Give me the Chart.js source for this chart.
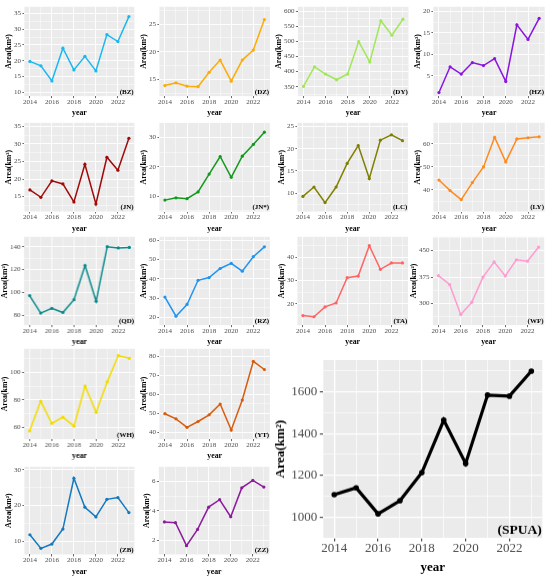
<!DOCTYPE html>
<html>
<head>
<meta charset="utf-8">
<script src="https://cdn.jsdelivr.net/npm/chart.js@4.4.0/dist/chart.umd.min.js"></script>
<style>
  body { margin: 0; background: #fff; }
  #wrap { position: relative; width: 550px; height: 581px; overflow: hidden; }
  .cell { position: absolute; }
</style>
</head>
<body>
<div id="wrap"></div>
<script>
const years = [2014, 2015, 2016, 2017, 2018, 2019, 2020, 2021, 2022, 2023];

const bz = [19.8, 18.4, 13.6, 24.0, 17.1, 21.4, 16.8, 28.3, 26.1, 34.0];
const dz = [13.9, 14.4, 13.8, 13.7, 16.3, 18.5, 14.7, 18.5, 20.3, 25.8];
const dy = [351, 416, 392, 373, 392, 499, 432, 568, 520, 573];
const hz = [1.1, 7.1, 5.4, 8.1, 7.4, 9.0, 3.7, 16.9, 13.5, 18.4];
const jn = [16.9, 14.8, 19.5, 18.6, 13.5, 24.2, 12.9, 26.2, 22.5, 31.6];
const jnStar = [8.6, 9.4, 9.1, 11.4, 17.5, 23.5, 16.4, 23.6, 27.6, 31.8];
const lc = [9.3, 11.4, 7.9, 11.4, 16.7, 20.7, 13.3, 21.9, 23.1, 21.8];
const ly = [44.2, 39.6, 35.7, 43.1, 49.9, 62.8, 52.1, 62.1, 62.6, 63.0];
const qd = [97.2, 81.8, 85.9, 82.3, 93.6, 123.5, 92.2, 140.1, 139.0, 139.5];
const rz = [30.5, 20.6, 26.7, 39.2, 40.6, 45.3, 48.0, 43.9, 51.4, 56.5];
const ta = [15.0, 14.5, 18.7, 20.4, 31.2, 31.9, 44.9, 34.8, 37.5, 37.5];
const wf = [379, 354, 269, 304, 375, 418, 378, 424, 420, 460];
const wh = [57.5, 79.0, 63.0, 67.5, 61.0, 90.0, 71.0, 93.0, 112.0, 110.0];
const yt = [49.7, 47.0, 42.5, 45.6, 49.1, 54.8, 41.1, 56.9, 77.3, 73.0];
const zb = [11.8, 8.0, 9.2, 13.4, 27.6, 19.5, 16.8, 21.7, 22.2, 18.0];
const zz = [3.25, 3.2, 1.65, 2.75, 4.25, 4.75, 3.6, 5.55, 6.05, 5.6];
const spua = [1107, 1140, 1015, 1078, 1213, 1465, 1257, 1585, 1580, 1700];

const FONT = "'Liberation Serif', 'Times New Roman', serif";

// panel edges in page pixels
const cols = [[24, 134], [159, 269.5], [297.7, 408.3], [433, 544.3]];
const rows = [[6.7, 96], [122.3, 211], [237, 325.3], [349, 439.3], [466.7, 554.3]];

const panels = [
  { name: '(BZ)', values: bz, color: '#1AB8F0', min: 8.8, max: 37.1, step: 5, col: 0, row: 0 },
  { name: '(DZ)', values: dz, color: '#FDAC07', min: 12, max: 28.1, step: 5, col: 1, row: 0 },
  { name: '(DY)', values: dy, color: '#A3E65C', min: 319, max: 614, step: 50, col: 2, row: 0 },
  { name: '(HZ)', values: hz, color: '#8A14E0', min: 0.26, max: 21.1, step: 5, col: 3, row: 0 },
  { name: '(JN)', values: jn, color: '#A00A0A', min: 10.75, max: 36, step: 5, col: 0, row: 1 },
  { name: '(JN*)', values: jnStar, color: '#129A1C', min: 4.7, max: 35, step: 10, col: 1, row: 1 },
  { name: '(LC)', values: lc, color: '#808000', min: 5.9, max: 25.8, step: 5, col: 2, row: 1 },
  { name: '(LY)', values: ly, color: '#FF8A1E', min: 30.5, max: 69.1, step: 10, col: 3, row: 1 },
  { name: '(QD)', values: qd, color: '#0A8C8C', min: 71.2, max: 148.8, step: 20, col: 0, row: 2 },
  { name: '(RZ)', values: rz, color: '#2094F2', min: 16, max: 61.7, step: 10, col: 1, row: 2 },
  { name: '(TA)', values: ta, color: '#FF6464', min: 10.9, max: 48.7, step: 10, col: 2, row: 2 },
  { name: '(WF)', values: wf, color: '#FF9BD0', min: 239, max: 489, step: 75, col: 3, row: 2 },
  { name: '(WH)', values: wh, color: '#F2DC00', min: 51.6, max: 116.9, step: 20, col: 0, row: 3 },
  { name: '(YT)', values: yt, color: '#D85C0E', min: 36.3, max: 83.9, step: 10, col: 1, row: 3 },
  { name: '(ZB)', values: zb, color: '#1479BE', min: 6.3, max: 30.8, step: 10, col: 0, row: 4 },
  { name: '(ZZ)', values: zz, color: '#8C1C9C', min: 1.06, max: 6.97, step: 2, col: 1, row: 4 }
];

const bigPanel = { name: '(SPUA)', values: spua, color: '#000000', min: 900, max: 1753, step: 200,
  box: [323, 542, 360, 537] };

const small = { tick: 7, title: 7.8, label: 7, line: 1.5, radius: 1.6, grid: 0.9, tickLen: 2,
  tickPad: 1.3, xTickPad: 0.5, xTitlePad: 2.5, yTitlePad: 0, labelDx: 0.7, labelDy: 2.2 };
const big = { tick: 13, title: 13, label: 13.5, line: 3.2, radius: 2.8, grid: 1.3, tickLen: 3.5,
  tickPad: 2.5, xTickPad: 0.5, xTitlePad: 4.5, yTitlePad: 1.8, labelDx: 0.5, labelDy: 4.3 };

function isMult(v, step) {
  const r = v / step;
  return Math.abs(r - Math.round(r)) < 1e-6;
}

function range(min, max, step) {
  const out = [];
  for (let k = Math.ceil(min / step - 1e-9); k * step <= max + 1e-9; k++) {
    out.push(+(k * step).toFixed(6));
  }
  return out;
}

const panelBg = {
  id: 'panelBg',
  beforeDraw(chart) {
    const { ctx, chartArea: a } = chart;
    ctx.save();
    ctx.fillStyle = '#EBEBEB';
    ctx.fillRect(a.left, a.top, a.width, a.height);
    ctx.restore();
  }
};

const cornerLabel = {
  id: 'cornerLabel',
  afterDatasetsDraw(chart, args, opts) {
    const { ctx, chartArea: a } = chart;
    ctx.save();
    ctx.font = 'bold ' + opts.size + 'px ' + FONT;
    ctx.textAlign = 'right';
    ctx.textBaseline = 'alphabetic';
    ctx.fillStyle = '#000';
    ctx.fillText(opts.text, a.right - opts.dx, a.bottom - opts.dy);
    ctx.restore();
  }
};

Chart.register(panelBg, cornerLabel);

const wrap = document.getElementById('wrap');

function buildChart(p, g, box) {
  const [left, right, top, bottom] = box;
  const div = document.createElement('div');
  div.className = 'cell';
  div.style.left = '0px';
  div.style.top = '0px';
  div.style.width = '300px';
  div.style.height = '260px';
  const canvas = document.createElement('canvas');
  div.appendChild(canvas);
  wrap.appendChild(div);

  const yTicks = range(p.min, p.max, p.step / 2);
  const majorX = v => isMult(v - 2014, 2);
  const majorY = v => isMult(v, p.step);

  const chart = new Chart(canvas, {
    type: 'line',
    data: {
      datasets: [{
        data: years.map((yr, i) => ({ x: yr, y: p.values[i] })),
        borderColor: p.color,
        backgroundColor: p.color,
        pointBackgroundColor: p.color,
        borderWidth: g.line,
        pointRadius: g.radius,
        pointBorderWidth: 0,
        tension: 0
      }]
    },
    options: {
      responsive: true,
      maintainAspectRatio: false,
      animation: false,
      events: [],
      layout: { padding: 0 },
      plugins: {
        legend: { display: false },
        tooltip: { enabled: false },
        cornerLabel: { text: p.name, size: g.label, dx: g.labelDx, dy: g.labelDy }
      },
      scales: {
        x: {
          type: 'linear',
          min: 2013.5,
          max: 2023.5,
          afterBuildTicks: s => { s.ticks = years.map(v => ({ value: v })); },
          ticks: {
            autoSkip: false,
            maxRotation: 0,
            padding: g.xTickPad,
            color: '#4D4D4D',
            font: { family: FONT, size: g.tick, lineHeight: 1 },
            callback: v => majorX(v) ? String(v) : ''
          },
          grid: {
            color: '#FFFFFF',
            lineWidth: c => (c.tick && majorX(c.tick.value)) ? g.grid : g.grid / 2,
            drawTicks: true,
            tickLength: g.tickLen,
            tickColor: c => (c.tick && majorX(c.tick.value)) ? '#333333' : 'rgba(0,0,0,0)',
            tickWidth: g.grid * 0.8
          },
          border: { display: false },
          title: {
            display: true,
            text: 'year',
            color: '#000',
            font: { family: FONT, size: g.title, weight: 'bold', lineHeight: 1.2 },
            padding: { top: g.xTitlePad, bottom: 0 }
          }
        },
        y: {
          min: p.min,
          max: p.max,
          afterBuildTicks: s => { s.ticks = yTicks.map(v => ({ value: v })); },
          ticks: {
            autoSkip: false,
            padding: g.tickPad,
            color: '#4D4D4D',
            font: { family: FONT, size: g.tick, lineHeight: 1 },
            callback: v => majorY(v) ? String(v) : ''
          },
          grid: {
            color: '#FFFFFF',
            lineWidth: c => (c.tick && majorY(c.tick.value)) ? g.grid : g.grid / 2,
            drawTicks: true,
            tickLength: g.tickLen,
            tickColor: c => (c.tick && majorY(c.tick.value)) ? '#333333' : 'rgba(0,0,0,0)',
            tickWidth: g.grid * 0.8
          },
          border: { display: false },
          title: {
            display: true,
            text: 'Area(km²)',
            color: '#000',
            font: { family: FONT, size: g.title, weight: 'bold', lineHeight: 1 },
            padding: { top: 0, bottom: g.yTitlePad }
          }
        }
      }
    }
  });

  // line the plot area up with the panel box of the reference
  const ca = chart.chartArea;
  const w0 = chart.width, h0 = chart.height;
  div.style.left = (left - ca.left) + 'px';
  div.style.top = (top - ca.top) + 'px';
  div.style.width = (ca.left + (right - left) + (w0 - ca.right)) + 'px';
  div.style.height = (ca.top + (bottom - top) + (h0 - ca.bottom)) + 'px';
  chart.resize();
  return chart;
}

panels.forEach(p => {
  const c = cols[p.col], r = rows[p.row];
  buildChart(p, small, [c[0], c[1], r[0], r[1]]);
});
buildChart(bigPanel, big, bigPanel.box);
</script>
</body>
</html>
